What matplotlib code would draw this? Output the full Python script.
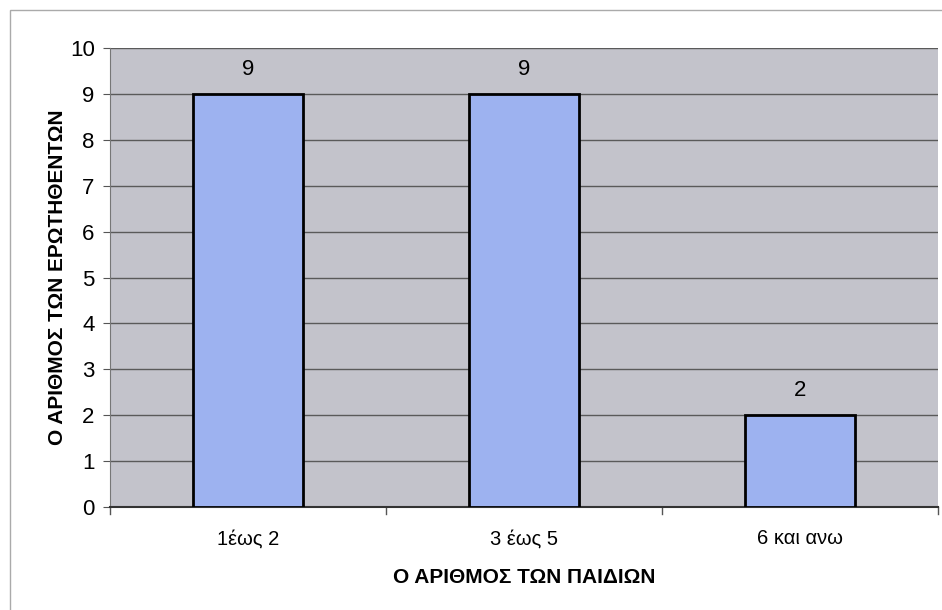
import matplotlib
matplotlib.use("Agg")
from matplotlib import pyplot as plt
from matplotlib.patches import Rectangle

categories = ["1έως 2", "3 έως 5", "6 και ανω"]
values = [9, 9, 2]
yticks = list(range(0, 11))

plt.rcParams['font.family'] = ['Liberation Sans', 'DejaVu Sans']

fig = plt.figure(figsize=(9.42, 6.1), dpi=100)
ax = fig.add_axes([110 / 942, 1 - 507 / 610, 828 / 942, 459 / 610])
ax.set_facecolor('#c3c3cb')

x = list(range(len(categories)))
bars = ax.bar(x, values, width=0.4, color='#9db2f0', edgecolor='black', linewidth=2, zorder=3)
for xi, v in zip(x, values):
    ax.text(xi, v + 0.3, str(v), ha='center', va='bottom', fontsize=16)

ax.set_xlim(-0.5, 2.5)
ax.set_ylim(0, 10)
ax.set_yticks(yticks)
ax.set_xticks(x)
ax.set_xticklabels(categories, fontsize=14.5)
ax.tick_params(axis='y', labelsize=16, length=5, color='#555555', pad=6)
ax.tick_params(axis='x', length=0, pad=16)
for xb in [-0.5, 0.5, 1.5, 2.5]:
    ax.plot([xb, xb], [0, -0.15], color='#555555', lw=1, clip_on=False)
ax.grid(axis='y', color='#5a5a5a', linewidth=1, zorder=0)
for s in ['top', 'right']:
    ax.spines[s].set_visible(False)
ax.spines['left'].set_color('#777777')
ax.spines['bottom'].set_color('#333333')
ax.spines['bottom'].set_linewidth(1.5)

ax.set_xlabel("Ο ΑΡΙΘΜΟΣ ΤΩΝ ΠΑΙΔΙΩΝ", fontsize=15, fontweight='bold', labelpad=14)
ax.set_ylabel("Ο ΑΡΙΘΜΟΣ ΤΩΝ ΕΡΩΤΗΘΕΝΤΩΝ", fontsize=15, fontweight='bold', labelpad=2)

fig.patches.append(Rectangle((10 / 942, -0.01), 1.02, 1 - 10 / 610 + 0.01, transform=fig.transFigure,
                             fill=False, edgecolor='#aaaaaa', lw=1))

fig.savefig("out.png", dpi=100)
